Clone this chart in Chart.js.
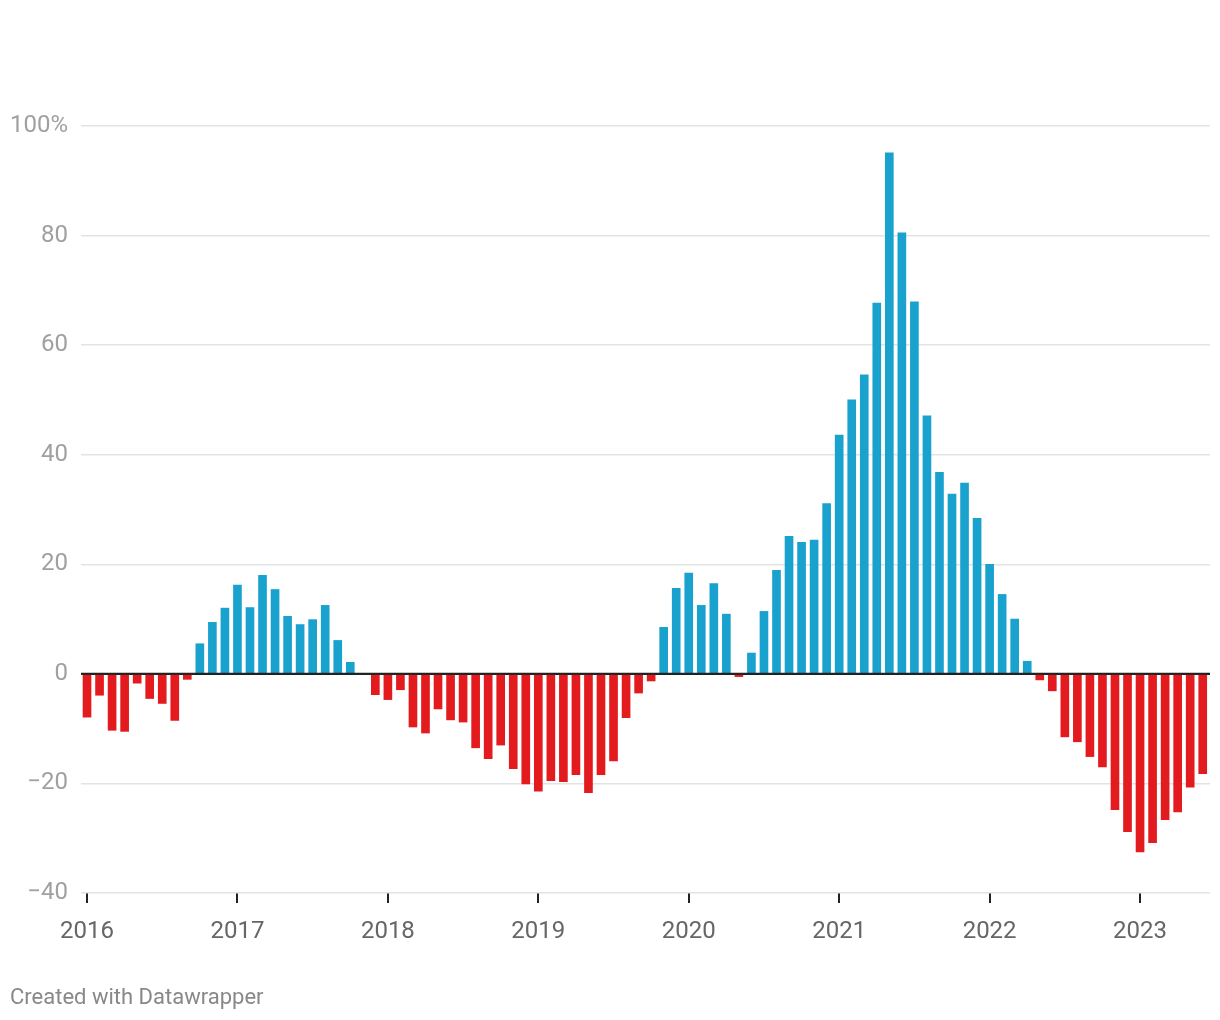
<!DOCTYPE html>
<html>
<head>
<meta charset="utf-8">
<script src="https://cdn.jsdelivr.net/npm/chart.js@4.4.1/dist/chart.umd.min.js"></script>
<style>
  body { margin: 0; background: #fff; font-family: Roboto, sans-serif; }
  .wrap { position: relative; width: 1220px; height: 1020px; }
  .credit {
    position: absolute; left: 10px; top: 985px;
    font: 22px/24px Roboto, sans-serif; color: #888;
  }
</style>
</head>
<body>
<div class="wrap">
  <canvas id="chart"></canvas>
  <div class="credit">Created with Datawrapper</div>
</div>
<script>
// monthly change in %, Jan 2016 .. Jun 2023 (one value per month)
const startYear = 2016
const values = [
  -7.9, -3.9, -10.3, -10.5, -1.7, -4.5, -5.4, -8.5, -1.0, 5.5, 9.4, 12.0,
  16.2, 12.1, 18.0, 15.4, 10.5, 9.0, 9.9, 12.5, 6.1, 2.1, 0, -3.8,
  -4.7, -2.9, -9.7, -10.8, -6.4, -8.4, -8.8, -13.5, -15.5, -13.0, -17.3, -20.1,
  -21.4, -19.5, -19.7, -18.4, -21.7, -18.4, -15.9, -8.0, -3.5, -1.3, 8.5, 15.6,
  18.4, 12.5, 16.5, 10.9, -0.5, 3.8, 11.4, 18.9, 25.1, 24.0, 24.4, 31.1,
  43.6, 50.0, 54.6, 67.7, 95.1, 80.5, 67.9, 47.1, 36.8, 32.8, 34.8, 28.4,
  20.0, 14.5, 10.0, 2.3, -1.1, -3.1, -11.5, -12.4, -15.1, -17.0, -24.8, -28.8,
  -32.5, -30.8, -26.6, -25.2, -20.7, -18.2,
]
const yearTicks = ["2016", "2017", "2018", "2019", "2020", "2021", "2022", "2023"]
const yTicks = [-40, -20, 0, 20, 40, 60, 80, 100]

const blue = "#1aa2cf"
const red = "#e31b1e"

const points = values.map((v, i) => ({ x: i, y: v }))

// redraw the zero line on top of the bars
const zeroLine = {
  id: "zeroLine",
  afterDatasetsDraw(chart) {
    const { ctx, chartArea, scales } = chart
    const y = scales.y.getPixelForValue(0)
    ctx.save()
    ctx.strokeStyle = "#222"
    ctx.lineWidth = 2
    ctx.beginPath()
    ctx.moveTo(chartArea.left, y)
    ctx.lineTo(chartArea.right, y)
    ctx.stroke()
    ctx.restore()
  },
}

new Chart(document.getElementById("chart"), {
  type: "bar",
  data: {
    datasets: [
      {
        data: points,
        backgroundColor: (c) => (c.raw && c.raw.y < 0 ? red : blue),
        barThickness: 8,
        borderWidth: 0,
      },
    ],
  },
  options: {
    responsive: true,
    maintainAspectRatio: false,
    animation: false,
    devicePixelRatio: 1,
    layout: { padding: { top: 126, right: 10, bottom: 67, left: 0 } },
    plugins: { legend: { display: false }, tooltip: { enabled: false } },
    scales: {
      x: {
        type: "linear",
        offset: false,
        min: -0.48,
        max: 89.58,
        afterBuildTicks: (scale) => {
          scale.ticks = yearTicks.map((t, i) => ({ value: i * 12 }))
        },
        afterFit: (scale) => { scale.height = 60 },
        border: { display: false },
        grid: {
          offset: false,
          drawOnChartArea: false,
          drawTicks: true,
          tickLength: 10,
          color: "#222",
          lineWidth: 2,
        },
        ticks: {
          autoSkip: false,
          maxRotation: 0,
          padding: 15,
          color: "#666",
          font: { family: "Roboto", size: 24 },
          callback: (v) => yearTicks[Math.round(v / 12)],
        },
      },
      y: {
        min: -40,
        max: 100,
        afterBuildTicks: (scale) => {
          scale.ticks = yTicks.map((v) => ({ value: v }))
        },
        afterFit: (scale) => { scale.width = 81 },
        border: { display: false },
        grid: {
          drawTicks: false,
          color: (c) => (c.tick && c.tick.value === 0 ? "#222" : "#e3e3e3"),
          lineWidth: (c) => (c.tick && c.tick.value === 0 ? 2 : 1.5),
        },
        ticks: {
          padding: 13,
          color: "#a0a0a0",
          font: { family: "Roboto", size: 24 },
          callback: (v) => {
            if (v === 100) return "100%"
            if (v < 0) return "\u2212" + Math.abs(v)
            return String(v)
          },
        },
      },
    },
  },
  plugins: [zeroLine],
})
</script>
</body>
</html>
